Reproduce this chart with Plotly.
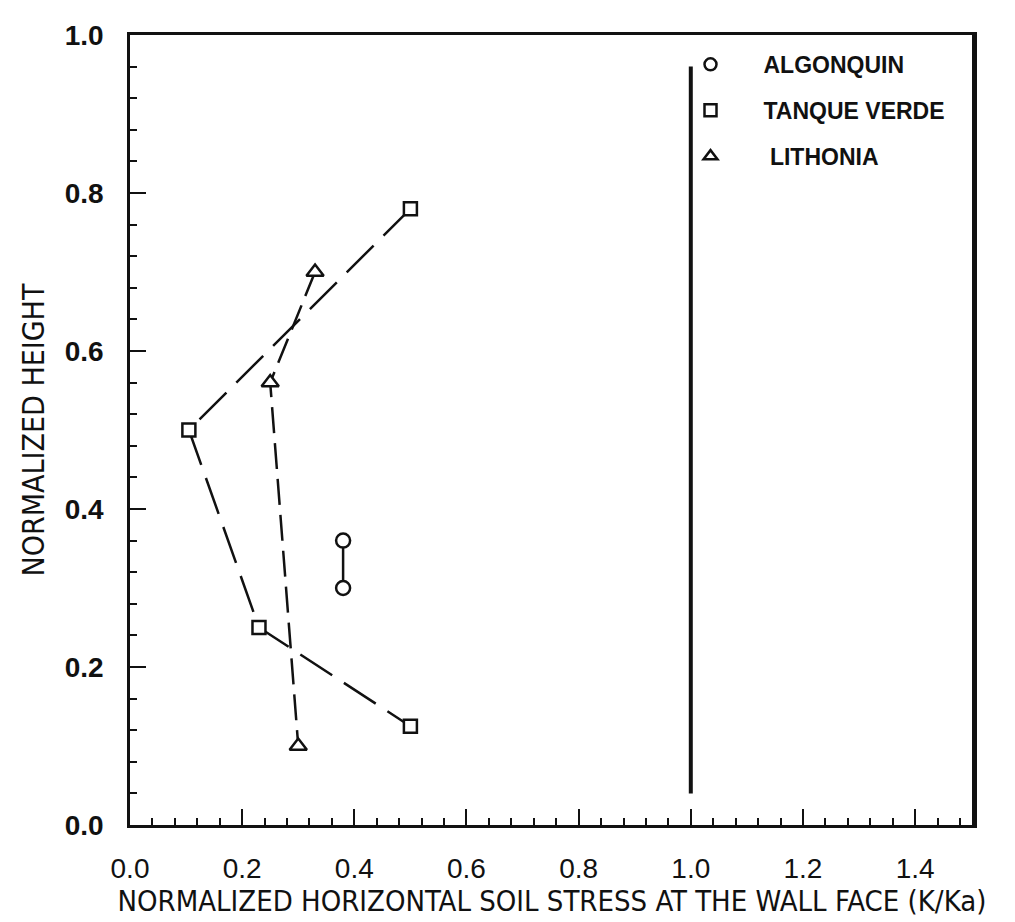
import plotly.graph_objects as go

# ---- data ----
algonquin_x = [0.38, 0.38]
algonquin_y = [0.36, 0.30]

tanque_x = [0.50, 0.105, 0.23, 0.50]
tanque_y = [0.78, 0.50, 0.25, 0.125]

lithonia_x = [0.33, 0.25, 0.30]
lithonia_y = [0.70, 0.56, 0.10]

ref_x = [1.0, 1.0]
ref_y = [0.04, 0.96]

series_names = ["ALGONQUIN", "TANQUE VERDE", " LITHONIA"]
x_ticks = [0.0, 0.2, 0.4, 0.6, 0.8, 1.0, 1.2, 1.4]
y_ticks = [0.0, 0.2, 0.4, 0.6, 0.8, 1.0]

BLACK = "#111111"
NARROW = "Liberation Sans Narrow, Arial Narrow, DejaVu Sans Condensed, Liberation Sans, sans-serif"
SANS = "Liberation Sans, Arial, sans-serif"

def mk(symbol, size=14):
    return dict(symbol=symbol, size=size, color="white",
                line=dict(color=BLACK, width=2.5))

fig = go.Figure()

# reference line K/Ka = 1
fig.add_trace(go.Scatter(x=ref_x, y=ref_y, mode="lines",
                         line=dict(color=BLACK, width=4), showlegend=False,
                         hoverinfo="skip"))

fig.add_trace(go.Scatter(x=tanque_x, y=tanque_y, mode="lines+markers",
                         line=dict(color=BLACK, width=2.5, dash="38px,14px"),
                         marker=mk("square", 13), showlegend=False))
fig.add_trace(go.Scatter(x=lithonia_x, y=lithonia_y, mode="lines+markers",
                         line=dict(color=BLACK, width=2.5, dash="26px,10px"),
                         marker=mk("triangle-up", 15), showlegend=False))
fig.add_trace(go.Scatter(x=algonquin_x, y=algonquin_y, mode="lines+markers",
                         line=dict(color=BLACK, width=2.5),
                         marker=mk("circle", 14), showlegend=False))

# legend entries (markers only)
for name, sym in zip(series_names, ["circle", "square", "triangle-up"]):
    fig.add_trace(go.Scatter(x=[None], y=[None], mode="markers", name=name,
                             marker=mk(sym, 12), legendgroup=name,
                             showlegend=True))

axis_common = dict(
    showgrid=False, zeroline=False,
    showline=True, linecolor=BLACK, linewidth=2.5, mirror=True,
    ticks="inside", ticklen=16, tickwidth=2, tickcolor=BLACK,
    minor=dict(ticks="inside", ticklen=7, tickwidth=2, tickcolor=BLACK, dtick=0.04),
    tickformat=".1f",
)

fig.update_xaxes(**axis_common, range=[0, 1.505], tickvals=x_ticks,
                 tickfont=dict(family=SANS, size=28, color=BLACK),
                 ticklabelstandoff=17,
                 title=dict(text="NORMALIZED HORIZONTAL SOIL STRESS AT THE WALL FACE (K/Ka)",
                            font=dict(family=NARROW, size=29, color=BLACK), standoff=5))
fig.update_yaxes(**axis_common, range=[0, 1.0], tickvals=y_ticks,
                 tickfont=dict(family=SANS, size=28, color=BLACK, weight="bold"),
                 ticklabelstandoff=18,
                 title=dict(text="NORMALIZED HEIGHT",
                            font=dict(family=NARROW, size=30, color=BLACK), standoff=12))

fig.update_layout(
    width=1015, height=922,
    margin=dict(l=122, r=49, t=20, b=105),
    paper_bgcolor="white", plot_bgcolor="white",
    showlegend=True,
    legend=dict(x=0.625, y=0.99, xanchor="left", yanchor="top",
                bgcolor="rgba(0,0,0,0)", borderwidth=0,
                font=dict(family=SANS, size=23, color=BLACK, weight="bold"),
                itemwidth=96, tracegroupgap=13),
    shapes=[dict(type="line", xref="paper", yref="paper", x0=1, x1=1, y0=0, y1=1,
                 line=dict(color=BLACK, width=4))],
)

fig.write_html("out.html")
